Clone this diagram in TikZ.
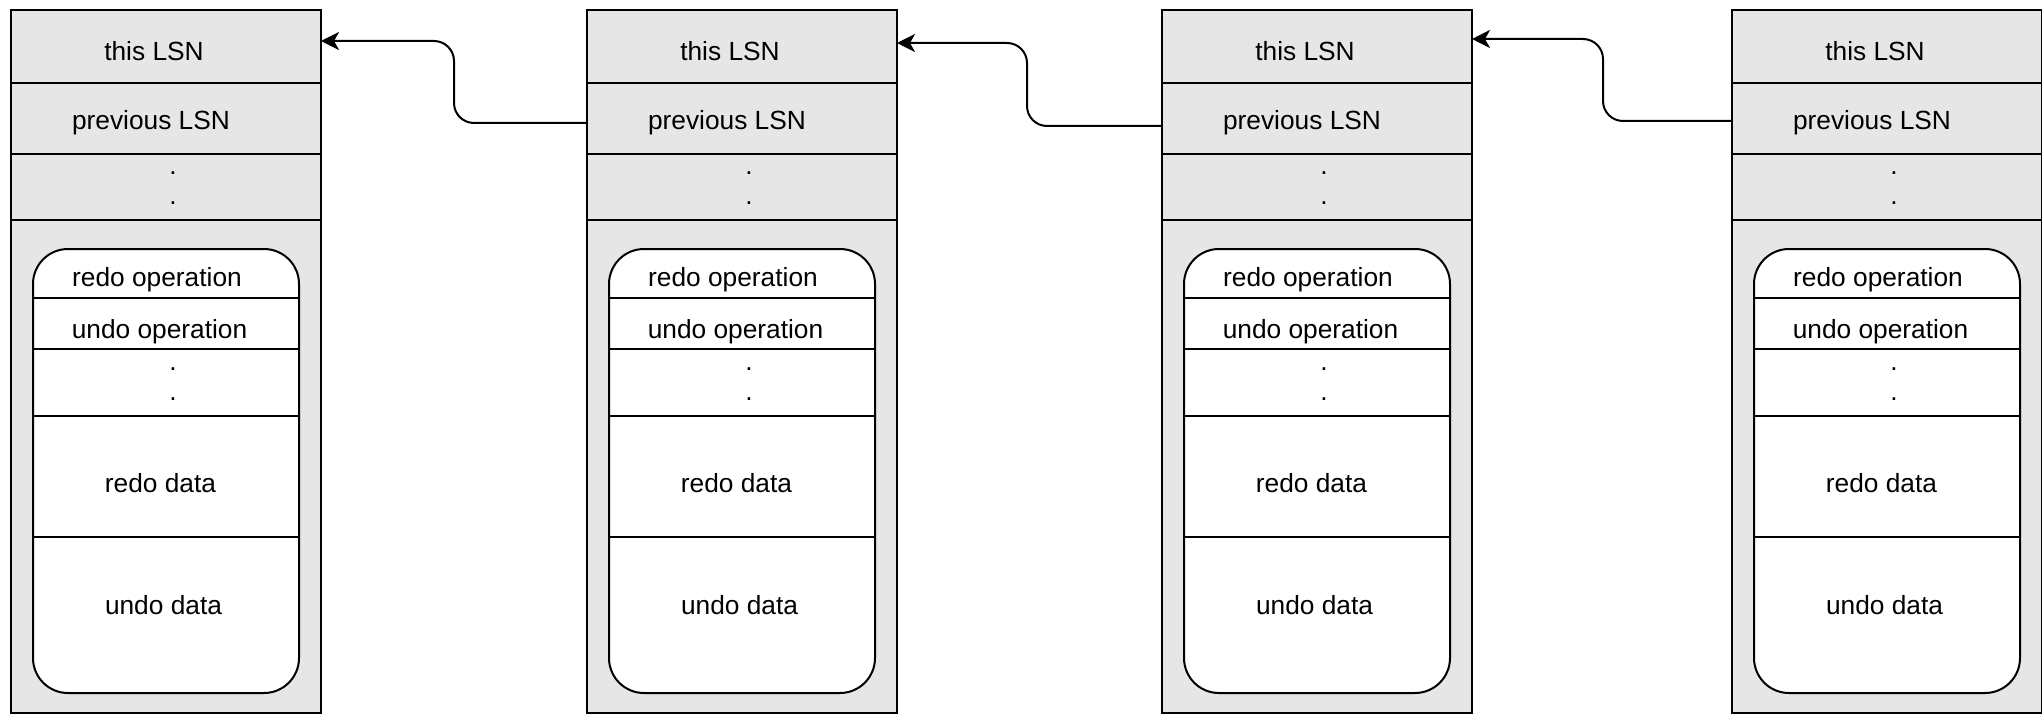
\documentclass[tikz,border=0pt]{standalone}
\usepackage{fontspec}
\setmainfont{Liberation Sans}
\usetikzlibrary{arrows.meta,calc}
\definecolor{boxgray}{HTML}{E6E6E6}
\begin{document}
\begin{tikzpicture}[x=1pt,y=-1pt,
  row/.style={draw=black, line width=2pt, fill=boxgray, anchor=north west, inner sep=0, outer sep=0, minimum width=310pt},
  innerbox/.style={draw=black, line width=2pt, fill=white, rounded corners=35pt, anchor=north west, inner sep=0, outer sep=0, minimum width=266pt, minimum height=444pt},
  lbl/.style={anchor=base, inner sep=0, outer sep=0, font=\fontsize{26.3}{31}\selectfont},
  sepline/.style={line width=2pt},
  link/.style={line width=2pt, rounded corners=20pt, -{Stealth[length=18pt,width=18pt,inset=5pt]}}]
\useasboundingbox (0,0) rectangle (2042,714);
\foreach \x/\i in {11/1,587/2,1162/3,1732/4}{
  \node[row, minimum height=493pt] (body\i) at (\x,220) {};
  \node[row, minimum height=66pt] (dots\i) at (\x,154) {};
  \node[row, minimum height=71pt] (prev\i) at (\x,83) {};
  \node[row, minimum height=73pt] (this\i) at (\x,10) {};
  \node[lbl] (tthis\i) at (\x+143,61) {this LSN};
  \node[lbl] (tprev\i) at (\x+140,130) {previous LSN};
  \node[lbl] (tdota\i) at (\x+162,175) {.};
  \node[lbl] (tdotb\i) at (\x+162,205) {.};
  \node[innerbox] (inner\i) at (\x+22,249) {};
  \draw[sepline] (\x+22,298) -- (\x+288,298);
  \draw[sepline] (\x+22,349) -- (\x+288,349);
  \draw[sepline] (\x+22,416) -- (\x+288,416);
  \draw[sepline] (\x+22,537) -- (\x+288,537);
  \node[lbl] (tredoop\i) at (\x+146,286) {redo operation};
  \node[lbl] (tundoop\i) at (\x+148.5,338) {undo operation};
  \node[lbl] (tidota\i) at (\x+162,370) {.};
  \node[lbl] (tidotb\i) at (\x+162,400) {.};
  \node[lbl] (tredod\i) at (\x+149.5,492) {redo data};
  \node[lbl] (tundod\i) at (\x+152.5,614) {undo data};
}
\draw[link] ($(prev2.west)+(0,4.5)$) -- ++(-133,0) |- ($(this1.east)+(0,-5.5)$);
\draw[link] ($(prev3.west)+(0,7.5)$) -- ++(-135,0) |- ($(this2.east)+(0,-3.5)$);
\draw[link] ($(prev4.west)+(0,2.5)$) -- ++(-129,0) |- ($(this3.east)+(0,-7.5)$);
\end{tikzpicture}
\end{document}
